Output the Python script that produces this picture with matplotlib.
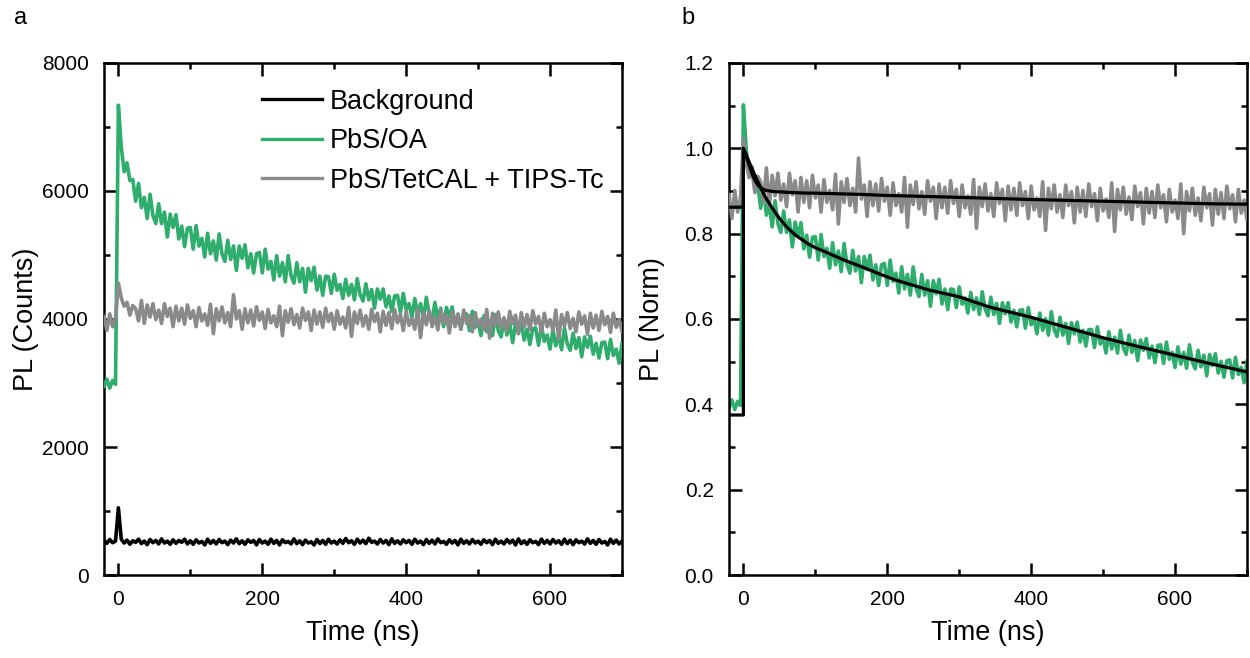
import numpy as np
import matplotlib
matplotlib.use("Agg")
import matplotlib.pyplot as plt
from matplotlib.ticker import MultipleLocator, FormatStrFormatter

plt.rcParams['font.family'] = ['Liberation Sans', 'DejaVu Sans']

# ---------------- data ----------------
# time bins (ns), 4 ns spacing from -20 to 700
time_ns = np.arange(-20, 701, 4)

# Panel a: raw counts
background = [
    540, 495, 555, 505, 530, 1050, 560,
    500, 545, 480, 535, 510, 560, 490, 530, 475, 555, 505, 540,
    485, 565, 500, 530, 480, 550, 495, 540, 510, 560, 485, 535,
    480, 550, 500, 525, 470, 560, 495, 540, 485, 555, 505, 530, 475,
    545, 500, 565, 490, 535, 480, 550, 510, 540, 470, 555, 500,
    530, 480, 560, 495, 540, 470, 550, 505, 525, 485, 565, 490, 535,
    475, 545, 500, 520, 470, 555, 490, 540, 480, 560, 500, 530,
    485, 550, 495, 570, 505, 535, 480, 560, 500, 545, 490, 575, 510,
    530, 485, 555, 500, 540, 475, 565, 495, 535, 485, 550, 505,
    540, 480, 560, 500, 530, 475, 555, 495, 545, 485, 565, 505, 525,
    480, 550, 500, 540, 470, 560, 495, 535, 485, 555, 500, 530,
    480, 550, 505, 540, 475, 560, 495, 530, 485, 555, 500, 545, 470,
    565, 490, 535, 480, 550, 505, 525, 475, 560, 495, 540, 485,
    555, 500, 535, 480, 560, 490, 545, 475, 550, 505, 530, 485, 565,
    495, 540, 480, 555, 500, 525, 470, 560, 495, 545, 485, 530,
]

pbs_oa = [
    2950, 3060, 2920, 3040, 2980, 7340,
    6690, 6300, 6440, 6160, 6180,
    5840, 6120, 5740, 5900, 5570, 5950, 5620, 5490, 5800, 5490,
    5670, 5280, 5640, 5430, 5630, 5250, 5450, 5130, 5420, 5430,
    5090, 5460, 5140, 5260, 4970, 5340, 5020, 5220, 4920, 5330,
    5020, 4900, 5230, 4930, 5140, 4760, 5140, 4950, 5160, 4800,
    5020, 4720, 5020, 5040, 4720,
    5090, 4780, 4900, 4610, 4990, 4670, 4880, 4580, 4990, 4680,
    4560, 4880, 4580, 4790, 4420, 4790, 4600, 4810, 4450, 4670,
    4370, 4670, 4660, 4400, 4700,
    4450, 4540, 4320, 4620, 4370, 4540, 4300, 4630, 4380, 4280,
    4550, 4300, 4460, 4170, 4470, 4310, 4470, 4190, 4360, 4120,
    4360, 4370, 4100, 4400, 4150,
    4240, 4020, 4320, 4070, 4240, 4000, 4340, 4080, 3980, 4260,
    4000, 4170, 3880, 4180, 4020, 4190, 3900, 4070, 3840, 4080,
    4080, 3820, 4120, 3870, 3960,
    3740, 4050, 3800, 3970, 3740, 4070, 3820, 3720, 4000, 3750,
    3920, 3630, 3930, 3780, 3950, 3670, 3840, 3600, 3850, 3860,
    3590, 3900, 3650, 3750, 3530,
    3830, 3580, 3750, 3520, 3860, 3610, 3510, 3780, 3540, 3710,
    3410, 3720, 3560, 3730, 3450, 3620, 3390, 3630, 3640, 3380,
    3680, 3430, 3530, 3310, 3620,
]

pbs_tetcal = [
    4040, 3820, 4080, 3880, 4010, 4560,
    4330, 4200, 4260, 4060, 4210,
    4160, 3970, 4290, 3930, 4220, 4030, 4240, 3990, 4140, 3930,
    4240, 4040, 4170, 3880, 4200, 3970, 4170, 3920, 4220, 4010,
    4130, 3880, 4180, 3970, 4080, 3900, 4230, 3770, 4160, 3970,
    4190, 3940, 4100, 3880, 4380, 4000, 4130, 3840, 4160, 3940,
    4140, 3890, 4190, 3980, 4110,
    3850, 4150, 3940, 4050, 3880, 4200, 3740, 4130, 3950, 4160,
    3910, 4070, 3860, 4170, 3980, 4110, 3820, 4140, 3920, 4110,
    3870, 4170, 3960, 4090, 3840,
    4130, 3920, 4030, 3860, 4180, 3730, 4110, 3930, 4140, 3890,
    4050, 3840, 4150, 3960, 4090, 3800, 4120, 3900, 4100, 3850,
    4150, 3940, 4070, 3820, 4120,
    3900, 4010, 3840, 4160, 3710, 4100, 3910, 4130, 3880, 4040,
    3830, 4130, 3940, 4070, 3780, 4110, 3880, 4080, 3840, 4140,
    3930, 4050, 3800, 4100, 3890,
    4000, 3830, 4150, 3700, 4090, 3900, 4110, 3860, 4020, 3810,
    4120, 3930, 4060, 3770, 4100, 3870, 4070, 3830, 4130, 3920,
    4040, 3790, 4090, 3880, 3990,
    3820, 4140, 3680, 4070, 3890, 4100, 3850, 4010, 3800, 4110,
    3920, 4050, 3760, 4090, 3860, 4060, 3820, 4120, 3910, 4040,
    3790, 4090, 3870, 3990, 3810,
]

# Panel b: normalisation (constant offset, peak scale)
bg_offset = 520
norm_oa = 6190
norm_tetcal = 3950

# Panel b: fitted curves (black)
fit_time = [-20, 0, 0, 2, 4, 7, 10, 13, 16, 20, 25, 30, 40, 50, 60, 72, 90,
            100, 120, 140, 165, 190, 212, 258, 300, 342, 400, 450, 500, 550,
            600, 650, 700]
fit_oa = [0.375, 0.375, 1.0, 0.993, 0.985, 0.972, 0.960, 0.948, 0.937, 0.922,
          0.904, 0.887, 0.860, 0.836, 0.816, 0.797, 0.776, 0.767, 0.753, 0.738,
          0.722, 0.705, 0.691, 0.668, 0.652, 0.628, 0.604, 0.580, 0.556, 0.535,
          0.515, 0.495, 0.476]
fit_tetcal = [0.862, 0.862, 1.0, 0.990, 0.980, 0.966, 0.950, 0.936, 0.925,
              0.914, 0.906, 0.902, 0.899, 0.898, 0.897, 0.896, 0.895, 0.895,
              0.894, 0.893, 0.892, 0.890, 0.889, 0.887, 0.885, 0.883, 0.880,
              0.878, 0.876, 0.874, 0.872, 0.870, 0.869]

labels = ["Background", "PbS/OA", "PbS/TetCAL + TIPS-Tc"]
GREEN = "#2EAD6C"
GREY = "#8A8A8A"
DATA_LW = 2.6

# ---------------- figure ----------------
fig = plt.figure(figsize=(12.5, 6.58), dpi=100)
ax1 = fig.add_axes([0.0832, 0.1261, 0.4144, 0.7782])
ax2 = fig.add_axes([0.5832, 0.1261, 0.4144, 0.7782])

oa = np.array(pbs_oa, float)
tc = np.array(pbs_tetcal, float)

ax1.plot(time_ns, background, color="black", lw=DATA_LW, label=labels[0], zorder=2)
ax1.plot(time_ns, pbs_oa, color=GREEN, lw=DATA_LW, label=labels[1], zorder=3)
ax1.plot(time_ns, pbs_tetcal, color=GREY, lw=DATA_LW, label=labels[2], zorder=4)

ax2.plot(time_ns, (oa - bg_offset) / norm_oa, color=GREEN, lw=DATA_LW, zorder=2)
ax2.plot(time_ns, (tc - bg_offset) / norm_tetcal, color=GREY, lw=DATA_LW, zorder=3)
ax2.plot(fit_time, fit_oa, color="black", lw=2.3, zorder=4)
ax2.plot(fit_time, fit_tetcal, color="black", lw=2.3, zorder=4)

ax1.set_ylim(0, 8000)
ax1.yaxis.set_major_locator(MultipleLocator(2000))
ax1.yaxis.set_minor_locator(MultipleLocator(1000))
ax2.set_ylim(0, 1.2)
ax2.yaxis.set_major_locator(MultipleLocator(0.2))
ax2.yaxis.set_minor_locator(MultipleLocator(0.1))
ax2.yaxis.set_major_formatter(FormatStrFormatter('%.1f'))

for ax in (ax1, ax2):
    ax.set_xlim(-20, 700)
    ax.xaxis.set_major_locator(MultipleLocator(200))
    ax.xaxis.set_minor_locator(MultipleLocator(100))
    for s in ax.spines.values():
        s.set_linewidth(1.8)
    ax.tick_params(which="both", direction="in", top=True, right=True,
                   width=1.8, labelsize=15)
    ax.tick_params(axis="y", which="both", pad=11)
    ax.tick_params(axis="x", which="both", pad=11)
    ax.tick_params(which="major", length=9)
    ax.tick_params(which="minor", length=4.5)
    ax.set_xlabel("Time (ns)", fontsize=19.5, labelpad=8)

ax1.set_ylabel("PL (Counts)", fontsize=19.5, labelpad=2)
ax2.set_ylabel("PL (Norm)", fontsize=19.5, labelpad=14)

leg = ax1.legend(loc="upper left", bbox_to_anchor=(0.305, 0.95), frameon=False,
                 fontsize=19.5, handlelength=2.2, handletextpad=0.3,
                 labelspacing=0.5, borderpad=0, borderaxespad=0)
for h in leg.get_lines():
    h.set_linewidth(2.4)

fig.text(0.011, 0.972, "a", fontsize=17, va="center")
fig.text(0.545, 0.972, "b", fontsize=17, va="center")

fig.savefig("out.png", dpi=100)
